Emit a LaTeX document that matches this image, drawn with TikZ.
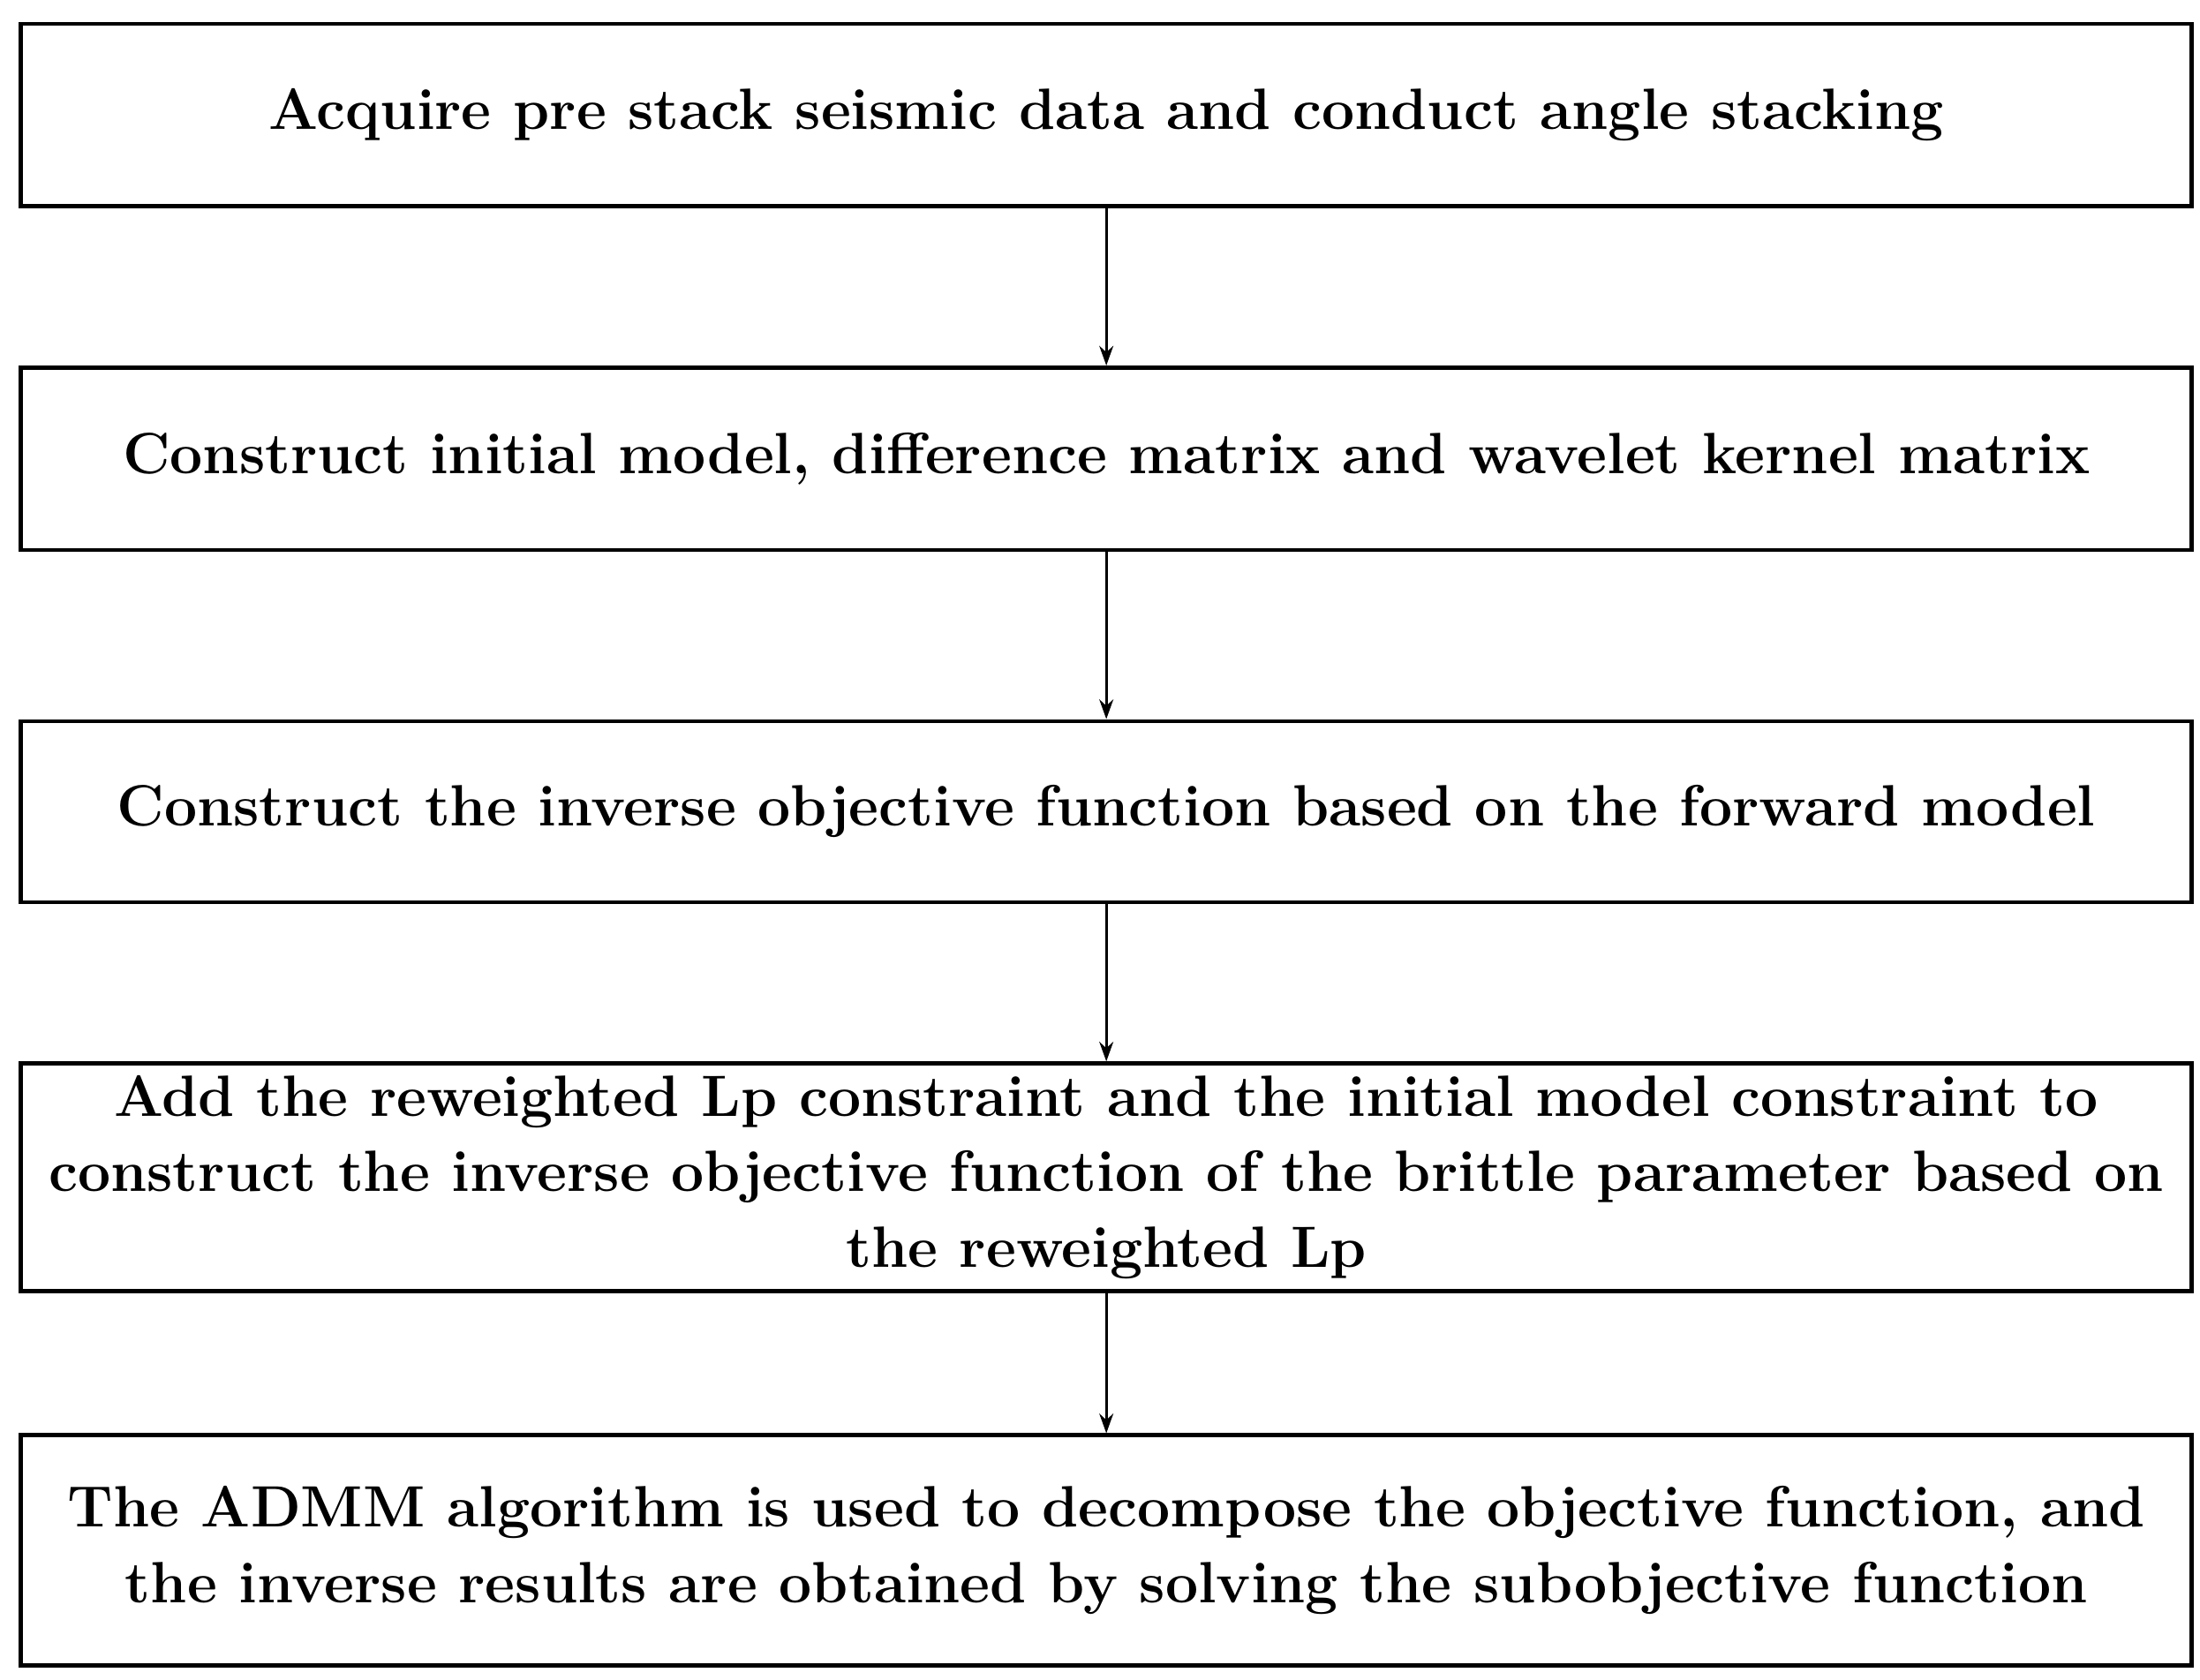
\documentclass[tikz,border=0pt]{standalone}
\usetikzlibrary{arrows.meta}
\begin{document}
\begin{tikzpicture}[x=1pt,y=-1pt,
  stepbox/.style={draw,line width=3pt,minimum width=1547pt,align=center,inner sep=0pt,font=\fontsize{41.5}{54}\selectfont\bfseries},
  conn/.style={line width=1.8pt,-{Stealth[length=14pt,width=10pt]}}]
\useasboundingbox (0,0) rectangle (1568,1197);
\node[stepbox,minimum height=130pt] (b1) at (788.5,82) {Acquire pre stack seismic data and conduct angle stacking};
\node[stepbox,minimum height=130pt] (b2) at (788.5,327) {Construct initial model, difference matrix and wavelet kernel matrix};
\node[stepbox,minimum height=129pt] (b3) at (788.5,578.5) {Construct the inverse objective function based on the forward model};
\node[stepbox,minimum height=162pt] (b4) at (788.5,839) {Add the reweighted Lp constraint and the initial model constraint to\\construct the inverse objective function of the brittle parameter based on\\the reweighted Lp};
\node[stepbox,minimum height=164pt] (b5) at (788.5,1105) {The ADMM algorithm is used to decompose the objective function, and\\the inverse results are obtained by solving the subobjective function};
\draw[conn] (b1) -- (b2);
\draw[conn] (b2) -- (b3);
\draw[conn] (b3) -- (b4);
\draw[conn] (b4) -- (b5);
\end{tikzpicture}
\end{document}
